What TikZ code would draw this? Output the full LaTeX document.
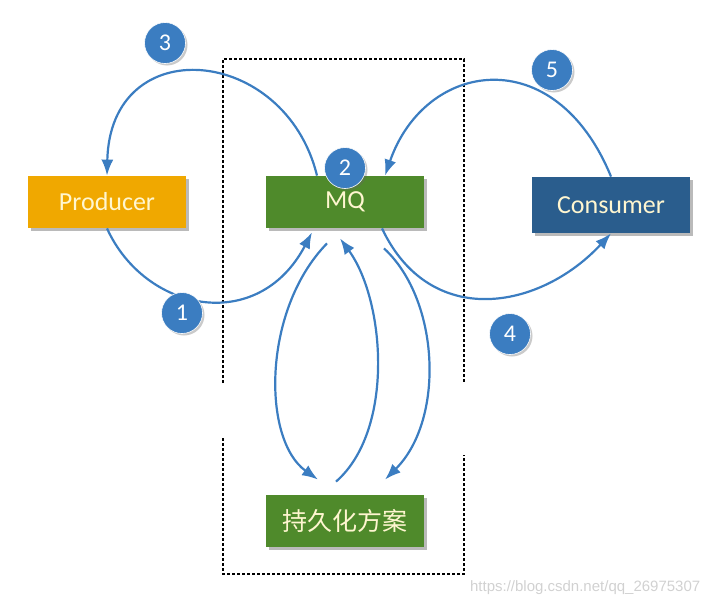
\documentclass[tikz,border=0pt]{standalone}
\usepackage{fontspec}
\usepackage{xcolor}
\usepackage{tikz}
\setmainfont{Carlito}
\newfontfamily\cjk{Noto Sans CJK SC}
\newfontfamily\markfont{Liberation Sans}
\usetikzlibrary{positioning, calc, arrows.meta, shadows}
\definecolor{prodorange}{HTML}{F0A800}
\definecolor{mqgreen}{HTML}{4F8A2B}
\definecolor{consblue}{HTML}{2A5D8D}
\definecolor{stepblue}{HTML}{3B7DC1}
\definecolor{boxtext}{HTML}{FFF6D0}
\tikzset{every picture/.append style={thick}}
\tikzset{
    box/.style={rectangle, minimum width=158pt, minimum height=52pt, inner sep=0pt,
        text=boxtext, font=\fontsize{26}{26}\selectfont,
        drop shadow={shadow xshift=3pt, shadow yshift=-3pt, opacity=0.45, fill=black!60}},
    stepmark/.style={circle, minimum size=41pt, inner sep=0pt, fill=stepblue, draw=white,
        line width=0.6pt, text=white, font=\fontsize{24}{24}\selectfont,
        drop shadow={shadow xshift=2pt, shadow yshift=-2pt, opacity=0.35, fill=black!60}},
    flow/.style={draw=stepblue, line width=2.2pt, -{Latex[length=16pt,width=12pt]}},
    frame/.style={draw=black, line width=2.4pt, dash pattern=on 3pt off 2pt}
}

\begin{document}
\begin{tikzpicture}[x=1pt, y=-1pt]
        \useasboundingbox (0, 0) rectangle (712, 605);

        % Dashed frame round MQ and storage (open at both sides)
        \draw[frame] (223, 383) -- (223, 59) -- (464, 59) -- (464, 383);
        \draw[frame] (223, 438) -- (223, 574) -- (464, 574) -- (464, 455);

        % Boxes
        \node[box, fill=prodorange] (producer) at (107, 202) {Producer};
        \node[box, fill=mqgreen] (mq) at (345, 202) {MQ};
        \node[box, fill=consblue, minimum height=56pt] (consumer) at (611, 205) {Consumer};
        \node[box, fill=mqgreen, font=\cjk\fontsize{25}{25}\selectfont] (persist) at (345, 521) {持久化方案};

        % 1: Producer sends to MQ
        \draw[flow] (producer.south) .. controls (145, 312) and (258, 335) .. ([xshift=-33pt, yshift=-4pt]mq.south);

        % 3: MQ answers Producer
        \draw[flow] ([xshift=-28pt]mq.north) .. controls (285, 45) and (110, 30) .. (producer.north);

        % 4: MQ pushes to Consumer
        \draw[flow] ([xshift=37pt]mq.south) .. controls (430, 330) and (540, 310) .. (consumer.south);

        % 5: Consumer answers MQ
        \draw[flow] (consumer.north) .. controls (555, 40) and (425, 60) .. ([xshift=40pt]mq.north);

        % MQ <-> persistence
        \draw[flow] ([xshift=-18pt, yshift=-15pt]mq.south) .. controls (262, 310) and (262, 440) .. ([xshift=-27pt, yshift=15pt]persist.north);
        \draw[flow] ([xshift=-9pt, yshift=13pt]persist.north) .. controls (395, 430) and (385, 300) .. ([xshift=-5pt, yshift=-10pt]mq.south);
        \draw[flow] ([xshift=39pt, yshift=-20pt]mq.south) .. controls (440, 300) and (445, 420) .. ([xshift=40pt, yshift=15pt]persist.north);

        % Step numbers
        \node[stepmark] (n1) at (182, 313) {1};
        \node[stepmark] (n2) at (345, 168) {2};
        \node[stepmark] (n3) at (165, 43) {3};
        \node[stepmark] (n4) at (510, 334) {4};
        \node[stepmark] (n5) at (552, 70) {5};

        % Watermark
        \node[anchor=east, text=black!18, font=\markfont\fontsize{15}{15}\selectfont] (mark) at (704, 588) {https://blog.csdn.net/qq\_26975307};

    \end{tikzpicture}
\end{document}
